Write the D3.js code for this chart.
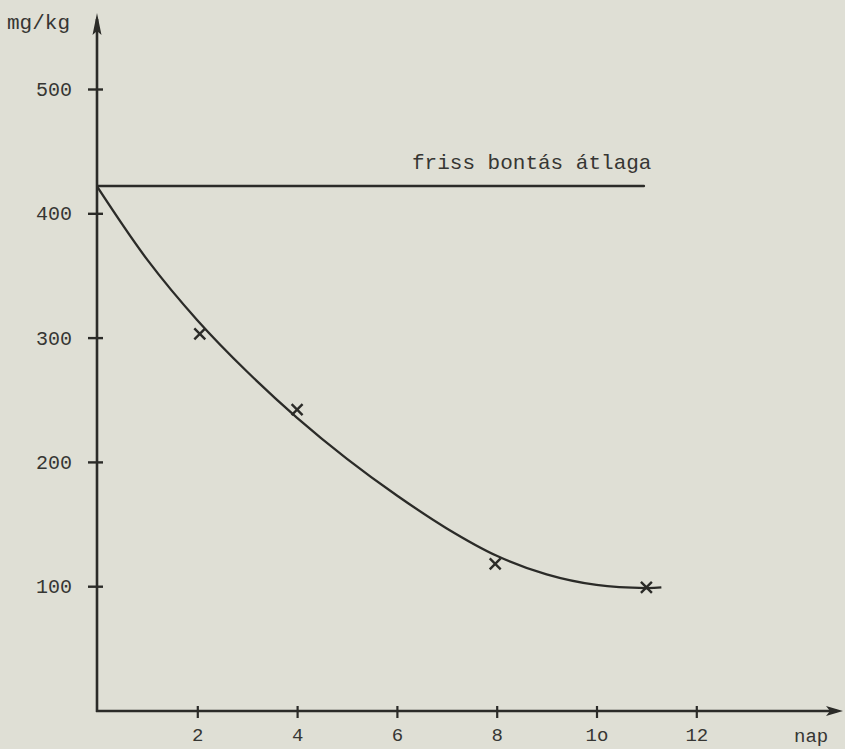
<!DOCTYPE html>
<html>
<head>
<meta charset="utf-8">
<script src="https://cdn.jsdelivr.net/npm/d3@7"></script>
<style>
  html, body { margin: 0; padding: 0; background: #dfdfd5; }
  svg { display: block; }
  text { font-family: "Liberation Mono", "Courier New", monospace; fill: #363633; }
</style>
</head>
<body>
<svg id="chart" width="845" height="749"></svg>
<script>
// ---- data ----
const xTicks = [2, 4, 6, 8, 10, 12];
const xTickLabels = ["2", "4", "6", "8", "1o", "12"];
const yTicks = [100, 200, 300, 400, 500];
const yTickLabels = ["100", "200", "300", "400", "500"];

// fitted curve (day, mg/kg)
const curveDays   = [0,   1,     2,   3,     4,     5,     6,   7,     8,     9,     10,  11,   11.3];
const curveValues = [421, 362.5, 314, 272.5, 235.5, 202.5, 173, 146.5, 124.5, 109.5, 101, 98.5, 99];

// measured points
const pointDays   = [2.05, 4.0, 7.97, 11.0];
const pointValues = [303,  242, 118,  99];

// average of fresh opening
const avgLabel = "friss bontás átlaga";
const avgValue = 422;
const avgDays = [0, 10.95];

const yUnit = "mg/kg";
const xUnit = "nap";

// ---- layout ----
const svg = d3.select("#chart");
const ink = "#2b2b28";
const x = d3.scaleLinear().domain([0, 15]).range([97.5, 846]);
const y = d3.scaleLinear().domain([0, 500]).range([710.5, 89]);
const xAxisY = 711;
const yAxisX = 97;
const yTop = 13;
const xEnd = 843;

// axis lines
svg.append("line").attr("x1", yAxisX).attr("x2", yAxisX).attr("y1", yTop + 6).attr("y2", xAxisY + 1)
  .attr("stroke", ink).attr("stroke-width", 2.6);
svg.append("line").attr("x1", yAxisX - 1).attr("x2", xEnd - 6).attr("y1", xAxisY).attr("y2", xAxisY)
  .attr("stroke", ink).attr("stroke-width", 2.6);

// arrowheads
svg.append("path")
  .attr("d", `M${yAxisX},${yTop} L${yAxisX + 4.5},${yTop + 22} L${yAxisX},${yTop + 18} L${yAxisX - 4.5},${yTop + 22} Z`)
  .attr("fill", ink);
svg.append("path")
  .attr("d", `M${xEnd},${xAxisY} L${xEnd - 17},${xAxisY - 5} L${xEnd - 13},${xAxisY} L${xEnd - 17},${xAxisY + 5} Z`)
  .attr("fill", ink);

// y axis ticks via d3 axis
const yAxis = d3.axisLeft(y).tickValues(yTicks).tickFormat((d, i) => yTickLabels[i]).tickSize(9).tickPadding(16);
const gy = svg.append("g").attr("transform", `translate(${yAxisX},0)`).call(yAxis);
gy.select(".domain").remove();
gy.selectAll(".tick line").attr("x1", -9).attr("x2", 6).attr("stroke", ink).attr("stroke-width", 2.4);
gy.selectAll(".tick text").attr("font-size", 20).attr("fill", "#363633")
  .attr("font-family", '"Liberation Mono", monospace').attr("dy", "0.32em");

// x axis ticks via d3 axis
const xAxis = d3.axisBottom(x).tickValues(xTicks).tickFormat((d, i) => xTickLabels[i]).tickSize(7).tickPadding(10);
const gx = svg.append("g").attr("transform", `translate(0,${xAxisY})`).call(xAxis);
gx.select(".domain").remove();
gx.selectAll(".tick line").attr("y1", -5).attr("y2", 7).attr("stroke", ink).attr("stroke-width", 2.2);
gx.selectAll(".tick text").attr("font-size", 19).attr("fill", "#363633")
  .attr("font-family", '"Liberation Mono", monospace').attr("dy", "0.71em");

// unit labels
svg.append("text").attr("x", 7).attr("y", 29).attr("font-size", 21).text(yUnit);
svg.append("text").attr("x", 794).attr("y", 742).attr("font-size", 19).text(xUnit);

// average line
svg.append("line")
  .attr("x1", x(avgDays[0])).attr("x2", x(avgDays[1]))
  .attr("y1", y(avgValue)).attr("y2", y(avgValue))
  .attr("stroke", ink).attr("stroke-width", 2.4).attr("stroke-linecap", "round");
svg.append("text").attr("x", 412).attr("y", 169).attr("font-size", 21).text(avgLabel);

// fitted curve
const curveData = curveDays.map((d, i) => [d, curveValues[i]]);
const line = d3.line().x(d => x(d[0])).y(d => y(d[1])).curve(d3.curveCatmullRom.alpha(0.5));
svg.append("path").datum(curveData).attr("d", line)
  .attr("fill", "none").attr("stroke", ink).attr("stroke-width", 2.3);

// measured points
const pts = pointDays.map((d, i) => [d, pointValues[i]]);
svg.selectAll(".pt").data(pts).join("path")
  .attr("class", "pt")
  .attr("transform", d => `translate(${x(d[0])},${y(d[1])})`)
  .attr("d", d3.symbol(d3.symbolX, 80))
  .attr("fill", "none").attr("stroke", ink).attr("stroke-width", 2.4);
</script>
</body>
</html>
